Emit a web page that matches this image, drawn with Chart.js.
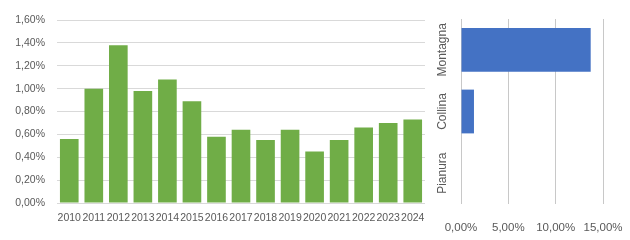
<!DOCTYPE html>
<html>
<head>
<meta charset="utf-8">
<script src="https://cdn.jsdelivr.net/npm/chart.js@4"></script>
<style>
  html, body { margin: 0; padding: 0; background: #fff; }
  .box { position: absolute; top: 0; height: 240px; }
  #leftBox { left: 0; width: 430px; }
  #rightBox { left: 430px; width: 200px; }
</style>
</head>
<body>
<div class="box" id="leftBox"><canvas id="yearChart"></canvas></div>
<div class="box" id="rightBox"><canvas id="zoneChart"></canvas></div>
<script>
// Data (values in %)
const years = ['2010', '2011', '2012', '2013', '2014', '2015', '2016', '2017',
               '2018', '2019', '2020', '2021', '2022', '2023', '2024'];
const yearValues = [0.56, 1.00, 1.38, 0.98, 1.08, 0.89, 0.58, 0.64,
                    0.55, 0.64, 0.45, 0.55, 0.66, 0.70, 0.73];
const zones = ['Montagna', 'Collina', 'Pianura'];
const zoneValues = [13.7, 1.37, 0];

const textColor = '#595959';
const gridColor = '#d9d9d9';
const pct = v => Number(v).toFixed(2).replace('.', ',') + '%';

Chart.defaults.font.family = '"Liberation Sans", Arial, sans-serif';
Chart.defaults.color = textColor;
Chart.defaults.animation = false;
Chart.defaults.maintainAspectRatio = false;
Chart.defaults.responsive = true;

// Years bar chart
new Chart(document.getElementById('yearChart'), {
    type: 'bar',
    data: {
        labels: years,
        datasets: [{
            data: yearValues,
            backgroundColor: '#70ad47',
            barPercentage: 0.76,
            categoryPercentage: 1
        }]
    },
    options: {
        layout: { padding: { top: 20, right: 5, left: 0, bottom: 0 } },
        plugins: { legend: { display: false }, tooltip: { enabled: false } },
        scales: {
            x: {
                grid: { display: false, drawTicks: true, tickLength: 9 },
                border: { display: false },
                ticks: { font: { size: 10.5 }, padding: 0, autoSkip: false, maxRotation: 0, minRotation: 0 },
                afterFit: s => { s.height = 37; }
            },
            y: {
                min: 0, max: 1.6,
                grid: { color: gridColor, drawTicks: false },
                border: { display: false },
                ticks: { stepSize: 0.2, font: { size: 10.5 }, padding: 12, callback: pct },
                afterFit: s => { s.width = 57; }
            }
        }
    }
});

// Zones horizontal bar chart
new Chart(document.getElementById('zoneChart'), {
    type: 'bar',
    data: {
        labels: zones,
        datasets: [{
            data: zoneValues,
            backgroundColor: '#4472c4',
            barPercentage: 0.71,
            categoryPercentage: 1
        }]
    },
    options: {
        indexAxis: 'y',
        layout: { padding: { top: 19, right: 27, left: 0, bottom: 0 } },
        plugins: { legend: { display: false }, tooltip: { enabled: false } },
        scales: {
            x: {
                min: 0, max: 15,
                grid: { color: '#c8c8c8', drawTicks: false },
                border: { display: false },
                ticks: { stepSize: 5, font: { size: 11.5 }, padding: 17, callback: pct },
                // labels may overflow the sides, the layout padding handles it
                afterFit: s => { s.height = 36; s.paddingLeft = 0; s.paddingRight = 0; }
            },
            y: {
                grid: { display: false, drawTicks: false },
                border: { display: false },
                ticks: { font: { size: 12 }, minRotation: 90, maxRotation: 90, crossAlign: 'center', padding: -8 },
                afterFit: s => { s.width = 31; }
            }
        }
    }
});
</script>
</body>
</html>
